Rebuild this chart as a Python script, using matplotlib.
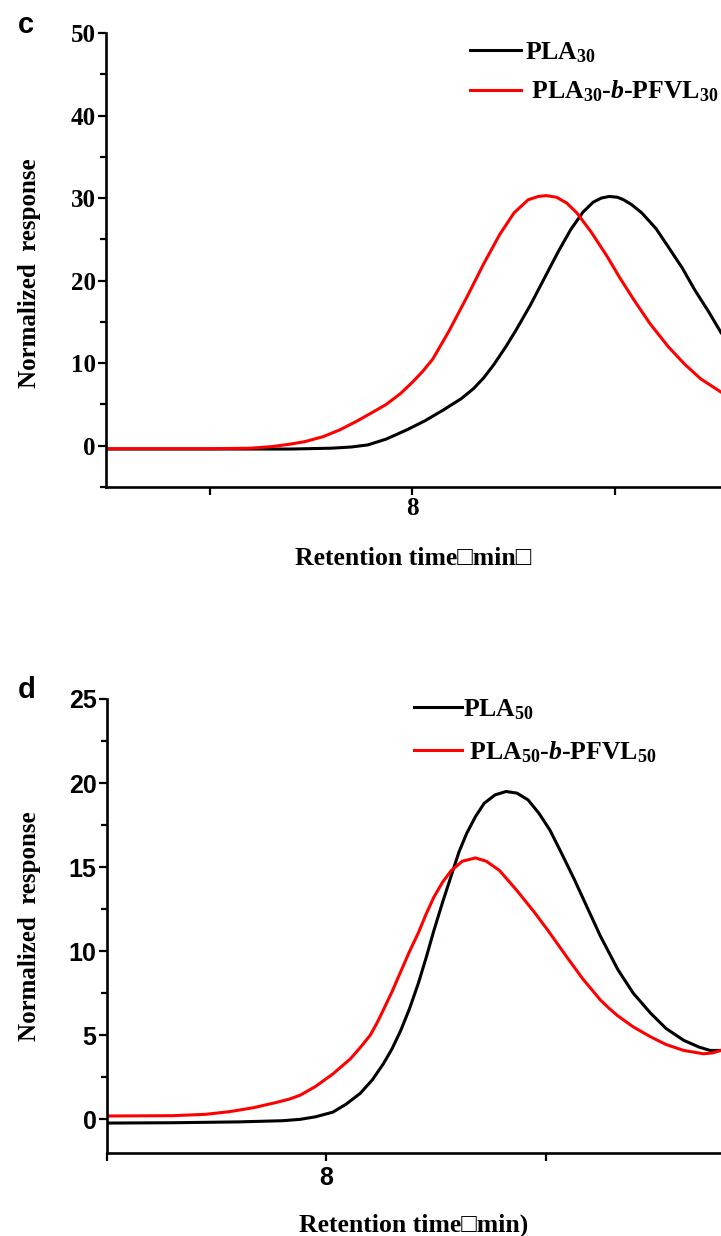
import numpy as np
import matplotlib
matplotlib.use("Agg")
import matplotlib.pyplot as plt
from matplotlib.ticker import MultipleLocator

plt.rcParams['font.family'] = ['Liberation Serif', 'DejaVu Serif']
plt.rcParams['font.weight'] = 'bold'
plt.rcParams['mathtext.fontset'] = 'custom'
plt.rcParams['mathtext.rm'] = 'Liberation Serif:bold'
plt.rcParams['mathtext.it'] = 'Liberation Serif:italic:bold'
plt.rcParams['mathtext.bf'] = 'Liberation Serif:bold'

# panel c: PLA30 vs PLA30-b-PFVL30
c_black_x = [6.49, 7.00, 7.40, 7.60, 7.70, 7.78, 7.87, 7.97, 8.06, 8.15, 8.24, 8.30,
             8.35, 8.40, 8.46, 8.51, 8.58, 8.65, 8.72, 8.78, 8.84, 8.89, 8.93, 8.97,
             9.01, 9.04, 9.08, 9.13, 9.20, 9.26, 9.33, 9.39, 9.46, 9.52]
c_black_y = [-0.4, -0.4, -0.4, -0.3, -0.15, 0.1, 0.8, 1.9, 3.0, 4.3, 5.7, 6.9,
             8.2, 9.8, 12.0, 14.0, 17.0, 20.3, 23.6, 26.2, 28.3, 29.5, 30.0, 30.2,
             30.1, 29.8, 29.2, 28.2, 26.3, 24.1, 21.5, 18.9, 16.2, 13.7]
c_red_x = [6.49, 7.00, 7.20, 7.31, 7.40, 7.47, 7.56, 7.64, 7.72, 7.80, 7.87, 7.94,
           8.00, 8.05, 8.10, 8.18, 8.27, 8.35, 8.43, 8.50, 8.57, 8.62, 8.66, 8.71,
           8.76, 8.81, 8.88, 8.96, 9.02, 9.09, 9.17, 9.26, 9.34, 9.42, 9.52]
c_red_y = [-0.36, -0.36, -0.3, -0.1, 0.2, 0.5, 1.1, 1.9, 2.9, 4.0, 5.0, 6.3,
           7.7, 9.0, 10.5, 13.9, 18.1, 22.0, 25.6, 28.2, 29.8, 30.2, 30.3, 30.1,
           29.4, 28.2, 25.9, 22.9, 20.4, 17.7, 14.8, 12.0, 9.9, 8.1, 6.5]

# panel d: PLA50 vs PLA50-b-PFVL50
d_black_x = [7.00, 7.30, 7.60, 7.80, 7.88, 7.95, 8.03, 8.09, 8.155, 8.21, 8.26, 8.30,
             8.34, 8.38, 8.42, 8.455, 8.49, 8.53, 8.57, 8.605, 8.64, 8.68, 8.72, 8.77,
             8.82, 8.87, 8.92, 8.97, 9.02, 9.07, 9.13, 9.19, 9.25, 9.29, 9.33, 9.40,
             9.48, 9.55, 9.63, 9.70, 9.75, 9.80]
d_black_y = [-0.22, -0.2, -0.15, -0.08, 0.0, 0.15, 0.43, 0.9, 1.55, 2.35, 3.3, 4.2,
             5.3, 6.6, 8.1, 9.6, 11.2, 12.9, 14.5, 15.9, 17.0, 18.0, 18.8, 19.3,
             19.5, 19.4, 19.0, 18.2, 17.2, 15.9, 14.3, 12.6, 10.9, 9.9, 8.9, 7.5,
             6.3, 5.4, 4.7, 4.3, 4.1, 4.1]
d_red_x = [7.00, 7.30, 7.45, 7.56, 7.67, 7.77, 7.83, 7.88, 7.95, 8.03, 8.11, 8.16,
           8.20, 8.23, 8.26, 8.30, 8.34, 8.38, 8.42, 8.455, 8.49, 8.53, 8.57, 8.62,
           8.68, 8.73, 8.79, 8.87, 8.95, 9.01, 9.10, 9.17, 9.25, 9.29, 9.33, 9.40,
           9.48, 9.55, 9.63, 9.72, 9.76, 9.80]
d_red_y = [0.2, 0.22, 0.3, 0.46, 0.7, 1.0, 1.2, 1.43, 1.95, 2.7, 3.6, 4.35,
           5.0, 5.7, 6.5, 7.6, 8.8, 10.0, 11.1, 12.2, 13.2, 14.1, 14.8, 15.35,
           15.55, 15.35, 14.8, 13.6, 12.3, 11.25, 9.6, 8.35, 7.1, 6.6, 6.15, 5.5,
           4.9, 4.45, 4.1, 3.9, 3.95, 4.1]

fig = plt.figure(figsize=(7.21, 12.36), dpi=100)
W, H = 721, 1236


def make_axes(left, top, bottom):
    return fig.add_axes([left / W, 1 - bottom / H, (W - left) / W, (bottom - top) / H])


def style_axes(ax, tickfont, xpad):
    for s in ['top', 'right']:
        ax.spines[s].set_visible(False)
    for s in ['left', 'bottom']:
        ax.spines[s].set_linewidth(1.9)
    ax.tick_params(which='major', direction='out', length=5.5, width=1.6, pad=2)
    ax.tick_params(which='minor', direction='out', length=4, width=1.6)
    ax.tick_params(axis='x', pad=xpad)
    for lab in ax.get_yticklabels() + ax.get_xticklabels():
        lab.set_family(tickfont)
        lab.set_fontweight('bold')
        lab.set_fontsize(18)


# ---- panel c ----
axc = make_axes(106, 33, 487)
axc.plot(c_black_x, c_black_y, color='black', lw=2.2, label='PLA$_{30}$')
axc.plot(c_red_x, c_red_y, color='red', lw=2.2, label=' PLA$_{30}$-$\\it{b}$-PFVL$_{30}$')
axc.set_xlim(6.49, 9.52)
axc.set_ylim(-5, 50)
axc.set_xticks([7, 8, 9], ['', '8', ''])
axc.set_yticks([0, 10, 20, 30, 40, 50])
axc.yaxis.set_minor_locator(MultipleLocator(5))
style_axes(axc, 'Liberation Serif', 2)
axc.set_ylabel('Normalized  response', fontsize=18, fontweight='bold', labelpad=20)
axc.yaxis.set_label_coords(-0.105, 0.47)
axc.set_xlabel('Retention time\u25a1min\u25a1', fontsize=18.5, fontweight='bold', labelpad=19,
               family=['Liberation Serif', 'DejaVu Sans'])
axc.legend(loc='upper left', bbox_to_anchor=(470 / W, 1 - 40 / H), bbox_transform=fig.transFigure,
           frameon=False, fontsize=18.5, handlelength=2.0, handletextpad=0.15, labelspacing=0.55,
           borderpad=0, borderaxespad=0)
fig.text(18 / W, 1 - 25 / H, 'c', fontsize=21, fontweight='bold', family='Liberation Sans',
         ha='left', va='center')

# ---- panel d ----
axd = make_axes(107, 699, 1153)
axd.plot(d_black_x, d_black_y, color='black', lw=2.2, label='PLA$_{50}$')
axd.plot(d_red_x, d_red_y, color='red', lw=2.2, label=' PLA$_{50}$-$\\it{b}$-PFVL$_{50}$')
axd.set_xlim(7.0, 9.80)
axd.set_ylim(-2, 25)
axd.set_xticks([7, 8, 9], ['', '8', ''])
axd.set_yticks([0, 5, 10, 15, 20, 25])
axd.yaxis.set_minor_locator(MultipleLocator(2.5))
style_axes(axd, 'Liberation Sans', 4)
axd.set_ylabel('Normalized  response', fontsize=18, fontweight='bold', labelpad=20)
axd.set_xlabel('Retention time\u25a1min)', fontsize=18.5, fontweight='bold', labelpad=17,
               family=['Liberation Serif', 'DejaVu Sans'])
axd.legend(loc='upper left', bbox_to_anchor=(414 / W, 1 - 697 / H), bbox_transform=fig.transFigure,
           frameon=False, fontsize=18.5, handlelength=1.85, handletextpad=0.05, labelspacing=0.68,
           borderpad=0, borderaxespad=0)
fig.text(18 / W, 1 - 690 / H, 'd', fontsize=21, fontweight='bold', family='Liberation Sans',
         ha='left', va='center')

fig.savefig('out.png', dpi=100)
